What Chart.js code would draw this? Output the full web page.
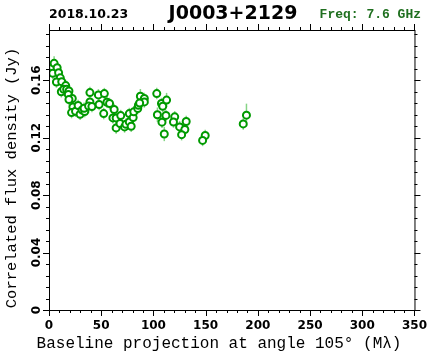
<!DOCTYPE html>
<html>
<head>
<meta charset="utf-8">
<script src="https://cdn.jsdelivr.net/npm/chart.js@4.4.0/dist/chart.umd.min.js"></script>
<style>
  html, body { margin: 0; padding: 0; background: #fff; }
</style>
</head>
<body>
<canvas id="uvChart" width="436" height="358"></canvas>
<script>
// baseline projection (M lambda) and correlated flux (Jy)
const baseline = [3.5, 4.9, 7.8, 3.6, 9.2, 10.8, 7.1, 12.2, 16.0, 11.8,
  14.1, 16.9, 19.1, 18.5, 22.3, 19.1, 22.9, 21.6, 25.4, 27.9,
  29.8, 31.7, 34.2, 33.6, 39.2, 39.2, 37.9, 41.1, 47.3, 48.0,
  53.0, 52.4, 55.5, 58.0, 62.4, 61.2, 64.3, 64.3, 68.7, 68.0,
  72.4, 73.7, 76.9, 76.9, 78.7, 80.6, 81.2, 85.0, 85.6, 87.5,
  91.3, 91.3, 86.8, 103.2, 103.8, 107.7, 108.9, 112.6, 108.2, 112.0,
  110.4, 120.4, 119.2, 125.1, 131.4, 130.1, 127.0, 149.6, 147.1, 186.0, 189.1];
const flux = [0.1688, 0.1718, 0.1687, 0.1649, 0.1652, 0.1617, 0.1588, 0.1590, 0.1563, 0.1520,
  0.1537, 0.1537, 0.1526, 0.1501, 0.1473, 0.1466, 0.1414, 0.1375, 0.1384, 0.1424,
  0.1363, 0.1393, 0.1382, 0.1405, 0.1514, 0.1449, 0.1421, 0.1417, 0.1498, 0.1431,
  0.1507, 0.1368, 0.1447, 0.1438, 0.1396, 0.1338, 0.1338, 0.1268, 0.1354, 0.1299,
  0.1275, 0.1294, 0.1368, 0.1310, 0.1280, 0.1341, 0.1380, 0.1403, 0.1426, 0.1489,
  0.1473, 0.1449, 0.1442, 0.1507, 0.1360, 0.1438, 0.1419, 0.1462, 0.1308, 0.1355,
  0.1226, 0.1345, 0.1309, 0.1275, 0.1313, 0.1257, 0.1221, 0.1215, 0.1181, 0.1296, 0.1357];
const fluxErr = [0.004, 0.005, 0.004, 0.004, 0.004, 0.004, 0.004, 0.004, 0.004, 0.004,
  0.004, 0.004, 0.004, 0.004, 0.004, 0.004, 0.004, 0.004, 0.004, 0.004,
  0.004, 0.004, 0.004, 0.004, 0.004, 0.004, 0.005, 0.004, 0.004, 0.004,
  0.004, 0.004, 0.004, 0.004, 0.004, 0.004, 0.004, 0.004, 0.004, 0.004,
  0.004, 0.004, 0.004, 0.004, 0.004, 0.004, 0.004, 0.004, 0.004, 0.005,
  0.004, 0.004, 0.004, 0.004, 0.005, 0.004, 0.004, 0.005, 0.004, 0.004,
  0.005, 0.004, 0.004, 0.004, 0.004, 0.004, 0.004, 0.004, 0.004, 0.004, 0.008];

const xTicks = [0, 50, 100, 150, 200, 250, 300, 350];
const yTicks = [0, 0.04, 0.08, 0.12, 0.16];
const xMinor = 10;
const yMinor = 0.008;

const obsDate = '2018.10.23';
const sourceName = 'J0003+2129';
const freqText = 'Freq: 7.6 GHz';
const xTitle = 'Baseline projection at angle 105\u00b0 (M\u03bb)';
const yTitle = 'Correlated flux density (Jy)';

const errorBars = {
  id: 'errorBars',
  beforeDatasetsDraw(chart) {
    const ctx = chart.ctx, x = chart.scales.x, y = chart.scales.y;
    ctx.save();
    ctx.strokeStyle = '#86d486';
    ctx.lineWidth = 1.5;
    for (let i = 0; i < baseline.length; i++) {
      const px = x.getPixelForValue(baseline[i]);
      ctx.beginPath();
      ctx.moveTo(px, y.getPixelForValue(flux[i] - fluxErr[i]));
      ctx.lineTo(px, y.getPixelForValue(flux[i] + fluxErr[i]));
      ctx.stroke();
    }
    ctx.restore();
  }
};

// box, outward ticks on all four sides, rotated y labels, axis titles and header
const frame = {
  id: 'frame',
  afterDraw(chart) {
    const ctx = chart.ctx, a = chart.chartArea;
    const x = chart.scales.x, y = chart.scales.y;
    ctx.save();
    ctx.strokeStyle = '#000';
    ctx.lineWidth = 1;
    ctx.strokeRect(a.left + 0.5, a.top + 0.5, a.right - a.left, a.bottom - a.top);

    ctx.beginPath();
    for (let v = 0; v <= x.max + 1e-9; v += xMinor) {
      const px = Math.round(x.getPixelForValue(v)) + 0.5;
      const len = (Math.round(v) % 50 === 0) ? 6 : 3;
      ctx.moveTo(px, a.bottom); ctx.lineTo(px, a.bottom + len);
      ctx.moveTo(px, a.top); ctx.lineTo(px, a.top - len);
    }
    for (let k = 0; k * yMinor <= y.max + 1e-9; k++) {
      const py = Math.round(y.getPixelForValue(k * yMinor)) + 0.5;
      const len = (k % 5 === 0) ? 6 : 3;
      ctx.moveTo(a.left, py); ctx.lineTo(a.left - len, py);
      ctx.moveTo(a.right, py); ctx.lineTo(a.right + len, py);
    }
    ctx.stroke();

    ctx.fillStyle = '#000';
    ctx.font = 'bold 12px "DejaVu Sans"';
    ctx.textAlign = 'center';
    ctx.textBaseline = 'middle';
    yTicks.forEach(v => {
      const py = y.getPixelForValue(v);
      ctx.save();
      ctx.translate(37, py);
      ctx.rotate(-Math.PI / 2);
      ctx.fillText(v === 0 ? '0' : v.toFixed(2), 0, 0);
      ctx.restore();
    });

    ctx.font = '16px "Liberation Mono"';
    ctx.fillText(xTitle, 219, 344);
    ctx.save();
    ctx.translate(12, 178);
    ctx.rotate(-Math.PI / 2);
    ctx.font = '15.5px "Liberation Mono"';
    ctx.fillText(yTitle, 0, 0);
    ctx.restore();

    ctx.textBaseline = 'alphabetic';
    ctx.textAlign = 'left';
    ctx.font = 'bold 12.5px "DejaVu Sans"';
    ctx.fillText(obsDate, 49, 18);
    ctx.textAlign = 'center';
    ctx.font = 'bold 19px "DejaVu Sans"';
    ctx.fillText(sourceName, 233, 19);
    ctx.textAlign = 'right';
    ctx.fillStyle = '#1f6f1f';
    ctx.font = 'bold 13px "Liberation Mono"';
    ctx.fillText(freqText, 421, 18);
    ctx.restore();
  }
};

new Chart(document.getElementById('uvChart'), {
  type: 'scatter',
  data: {
    datasets: [{
      data: baseline.map((b, i) => ({ x: b, y: flux[i] })),
      borderColor: '#009a00',
      backgroundColor: '#ffffff',
      borderWidth: 2,
      pointRadius: 3.5,
      pointHoverRadius: 3.5
    }]
  },
  options: {
    responsive: false,
    animation: false,
    devicePixelRatio: 1,
    layout: { padding: { top: 30, right: 15, left: 0, bottom: 0 } },
    plugins: { legend: { display: false }, tooltip: { enabled: false } },
    scales: {
      x: {
        type: 'linear',
        min: 0,
        max: 350,
        afterBuildTicks: s => { s.ticks = xTicks.map(v => ({ value: v })); },
        afterFit: s => { s.height = 48; },
        grid: { display: false, drawTicks: false },
        border: { display: false },
        ticks: { color: '#000', padding: 9, maxRotation: 0, font: { family: 'DejaVu Sans', size: 12, weight: 'bold' } }
      },
      y: {
        type: 'linear',
        min: 0,
        max: 0.195,
        afterBuildTicks: s => { s.ticks = yTicks.map(v => ({ value: v })); },
        afterFit: s => { s.width = 49; },
        grid: { display: false, drawTicks: false },
        border: { display: false },
        ticks: { display: false }
      }
    }
  },
  plugins: [errorBars, frame]
});
</script>
</body>
</html>
